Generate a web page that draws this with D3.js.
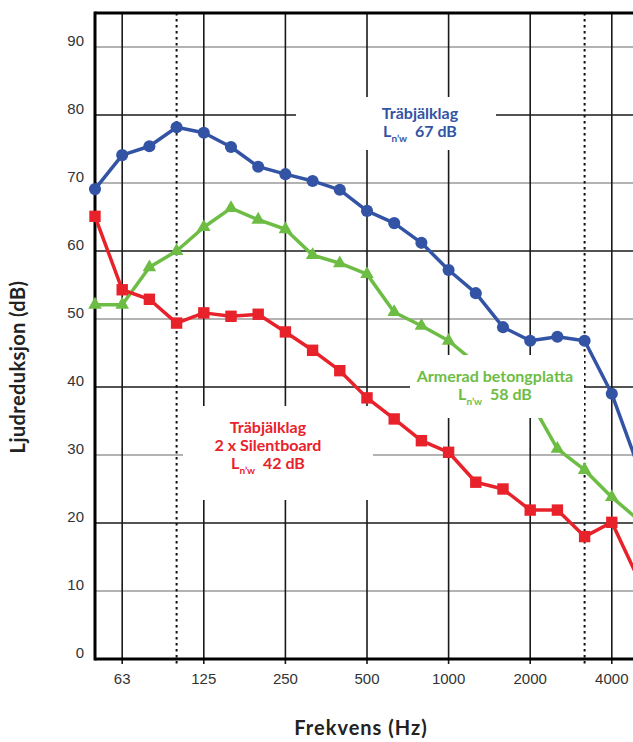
<!DOCTYPE html>
<html>
<head>
<meta charset="utf-8">
<script src="https://cdn.jsdelivr.net/npm/d3@7"></script>
<style>
  body { margin: 0; background: #fff; }
  svg { display: block; }
</style>
</head>
<body>
<div id="chart"></div>
<script>
// third octave bands (Hz)
var bands = [50, 63, 80, 100, 125, 160, 200, 250, 315, 400, 500, 630, 800, 1000, 1250, 1600, 2000, 2500, 3150, 4000, 5000];
var tickBands = [63, 125, 250, 500, 1000, 2000, 4000];
var dottedBands = [100, 3150];
var yTicks = [0, 10, 20, 30, 40, 50, 60, 70, 80, 90];

// series values (dB)
var trabjalklag = [69.1, 74.1, 75.4, 78.2, 77.4, 75.3, 72.4, 71.3, 70.3, 69.0, 65.9, 64.1, 61.2, 57.2, 53.8, 48.8, 46.8, 47.4, 46.8, 39.0, 28.0];
var armerad = [52.1, 52.1, 57.6, 60.0, 63.5, 66.3, 64.6, 63.2, 59.4, 58.2, 56.6, 51.0, 49.0, 46.8, 43.5, 41.0, 38.0, 30.9, 27.8, 23.8, 20.4];
var silentboard = [65.1, 54.3, 52.9, 49.4, 50.9, 50.4, 50.7, 48.1, 45.4, 42.4, 38.4, 35.3, 32.1, 30.4, 26.0, 25.0, 21.9, 21.9, 18.0, 20.1, 11.6];

var width = 633, height = 742;
var plotLeft = 95, plotTop = 13, plotBottom = 659;

var svg = d3.select("#chart").append("svg")
    .attr("width", width)
    .attr("height", height);

var x = d3.scalePoint()
    .domain(bands)
    .range([plotLeft, 639]);

var y = d3.scaleLinear()
    .domain([0, 95])
    .range([plotBottom, plotTop]);

// horizontal grid
svg.append("g").selectAll("line")
    .data(yTicks.filter(function(d) { return d > 0; }))
    .enter().append("line")
    .attr("x1", plotLeft).attr("x2", width)
    .attr("y1", function(d) { return y(d); })
    .attr("y2", function(d) { return y(d); })
    .attr("stroke", function(d) { return (d % 20 == 0) ? "#1a1a1a" : "#9a9a9a"; })
    .attr("stroke-width", 1.6);

// vertical grid
svg.append("g").selectAll("line")
    .data(tickBands)
    .enter().append("line")
    .attr("x1", function(d) { return x(d); })
    .attr("x2", function(d) { return x(d); })
    .attr("y1", plotTop).attr("y2", plotBottom + 5)
    .attr("stroke", "#1a1a1a")
    .attr("stroke-width", 1.6);

svg.append("g").selectAll("line")
    .data(dottedBands)
    .enter().append("line")
    .attr("x1", function(d) { return x(d); })
    .attr("x2", function(d) { return x(d); })
    .attr("y1", plotTop).attr("y2", plotBottom + 7)
    .attr("stroke", "#111")
    .attr("stroke-width", 2)
    .attr("stroke-dasharray", "2.5,3.5");

// frame
svg.append("line").attr("x1", plotLeft).attr("x2", width).attr("y1", plotTop).attr("y2", plotTop)
    .attr("stroke", "#000").attr("stroke-width", 3);
svg.append("line").attr("x1", plotLeft).attr("x2", width).attr("y1", plotBottom).attr("y2", plotBottom)
    .attr("stroke", "#000").attr("stroke-width", 3);
svg.append("line").attr("x1", plotLeft).attr("x2", plotLeft).attr("y1", plotTop - 1.5).attr("y2", plotBottom + 1.5)
    .attr("stroke", "#000").attr("stroke-width", 3);

// tick labels
svg.append("g").selectAll("text")
    .data(yTicks)
    .enter().append("text")
    .attr("x", 84)
    .attr("y", function(d) { return y(d) - 1; })
    .attr("text-anchor", "end")
    .style("font-family", "'Liberation Sans Narrow', 'Arial Narrow', sans-serif")
    .style("font-size", "15px")
    .style("fill", "#333")
    .text(function(d) { return d; });

svg.append("g").selectAll("text")
    .data(tickBands)
    .enter().append("text")
    .attr("x", function(d) { return x(d); })
    .attr("y", 684)
    .attr("text-anchor", "middle")
    .style("font-family", "'Liberation Sans Narrow', 'Arial Narrow', sans-serif")
    .style("font-size", "15px")
    .style("fill", "#333")
    .text(function(d) { return d; });

// axis titles
svg.append("text")
    .attr("transform", "translate(25,367) rotate(-90)")
    .attr("text-anchor", "middle")
    .style("font-family", "Lato, sans-serif")
    .style("font-weight", "bold")
    .style("font-size", "20px")
    .style("letter-spacing", "0.4px")
    .style("fill", "#222")
    .text("Ljudreduksjon (dB)");

svg.append("text")
    .attr("x", 361)
    .attr("y", 735)
    .attr("text-anchor", "middle")
    .style("font-family", "Lato, sans-serif")
    .style("font-weight", "bold")
    .style("font-size", "20px")
    .style("letter-spacing", "1px")
    .style("fill", "#222")
    .text("Frekvens (Hz)");

// data lines
var series = [
    {values: trabjalklag, color: "#3353a5", symbol: d3.symbolCircle, size: 115},
    {values: armerad, color: "#6dbd45", symbol: d3.symbolTriangle, size: 80},
    {values: silentboard, color: "#e8222b", symbol: d3.symbolSquare, size: 130}
];

var line = d3.line()
    .x(function(d, i) { return x(bands[i]); })
    .y(function(d) { return y(d); });

series.forEach(function(s) {
    svg.append("path")
        .datum(s.values)
        .attr("d", line)
        .attr("fill", "none")
        .attr("stroke", s.color)
        .attr("stroke-width", 3.5)
        .attr("stroke-linejoin", "round");

    svg.append("g").selectAll("path")
        .data(s.values)
        .enter().append("path")
        .attr("d", d3.symbol().type(s.symbol).size(s.size))
        .attr("transform", function(d, i) { return "translate(" + x(bands[i]) + "," + y(d) + ")"; })
        .attr("fill", s.color);
});

// label boxes (white, hide grid and line)
var boxes = [
    [296, 97, 200, 53],
    [410, 355, 174, 63],
    [183, 406, 190, 94]
];
svg.append("g").selectAll("rect")
    .data(boxes)
    .enter().append("rect")
    .attr("x", function(d) { return d[0]; })
    .attr("y", function(d) { return d[1]; })
    .attr("width", function(d) { return d[2]; })
    .attr("height", function(d) { return d[3]; })
    .attr("fill", "#fff");

function addLabel(cx, y0, lines, value, color) {
    var g = svg.append("g")
        .style("font-family", "Lato, sans-serif")
        .style("font-weight", "bold")
        .style("font-size", "16px")
        .style("fill", color)
        .attr("text-anchor", "middle");
    lines.forEach(function(t, i) {
        g.append("text").attr("x", cx).attr("y", y0 + i * 18).text(t);
    });
    var t = g.append("text").attr("x", cx).attr("y", y0 + lines.length * 18);
    t.append("tspan").text("L");
    t.append("tspan").attr("dy", 5).style("font-size", "10px").text("n\u2019w");
    t.append("tspan").attr("dy", -5).text("\u00a0\u00a0" + value + " dB");
}

addLabel(420, 119, ["Träbjälklag"], 67, "#3353a5");
addLabel(495, 382, ["Armerad betongplatta"], 58, "#6dbd45");
addLabel(268, 433, ["Träbjälklag", "2 x Silentboard"], 42, "#e8222b");
</script>
</body>
</html>
